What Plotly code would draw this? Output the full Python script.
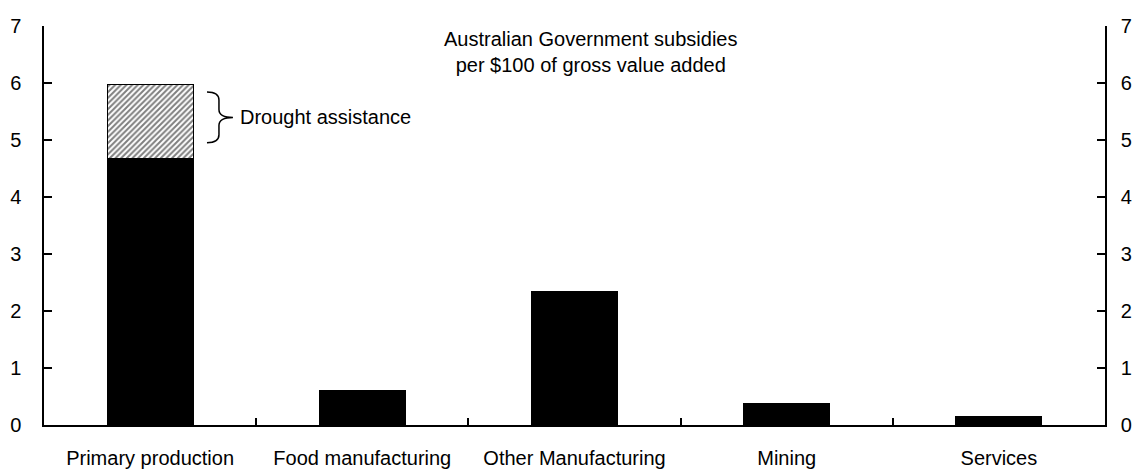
import plotly.graph_objects as go

categories = ["Primary production", "Food manufacturing", "Other Manufacturing", "Mining", "Services"]
base_subsidies = [4.67, 0.61, 2.35, 0.37, 0.145]
drought_assistance = [1.30, 0, 0, 0, 0]
y_ticks = [0, 1, 2, 3, 4, 5, 6, 7]

FONT = "Liberation Sans, Arial, sans-serif"
FS = 20

fig = go.Figure()
fig.add_trace(go.Bar(
    x=categories, y=base_subsidies, marker=dict(color="black", line=dict(color="black", width=1)),
    width=0.405, showlegend=False, hoverinfo="skip"))
fig.add_trace(go.Bar(
    x=categories, y=drought_assistance,
    marker=dict(color="white", line=dict(color="black", width=1),
                pattern=dict(shape="/", fgcolor="black", bgcolor="white", size=4, solidity=0.5)),
    width=0.405, showlegend=False, hoverinfo="skip"))
# invisible trace for right axis
fig.add_trace(go.Scatter(x=categories, y=[None]*5, yaxis="y2", showlegend=False, hoverinfo="skip"))

axis_common = dict(range=[0, 7], tickvals=y_ticks, showgrid=False, zeroline=False,
                   showline=True, linecolor="black", linewidth=1.5, ticks="inside",
                   ticklen=8, tickcolor="black", tickwidth=1.5, automargin=False,
                   tickfont=dict(family=FONT, size=FS, color="black"))

fig.update_layout(
    barmode="stack",
    width=1137, height=470,
    margin=dict(l=44, r=32, t=26, b=45),
    paper_bgcolor="white", plot_bgcolor="white",
    font=dict(family=FONT, size=FS, color="black"),
    xaxis=dict(showline=True, linecolor="black", linewidth=1.5, ticks="inside", ticklen=7,
               tickcolor="black", tickwidth=1.5, tickson="boundaries", showgrid=False,
               automargin=False,
               tickfont=dict(family=FONT, size=FS, color="black"), ticklabelstandoff=14),
    yaxis=dict(side="left", ticklabelstandoff=17, **axis_common),
    yaxis2=dict(side="right", overlaying="y", ticklabelstandoff=10, **axis_common),
)

fig.add_annotation(x=0.515, y=1.0, xref="paper", yref="paper", yanchor="top", showarrow=False,
                   text="Australian Government subsidies<br>per $100 of gross value added",
                   font=dict(family=FONT, size=FS, color="black"), align="center")

# brace for drought assistance segment
total = base_subsidies[0] + drought_assistance[0]
top = total - 0.13
bot = base_subsidies[0] + 0.28
mid = (top + bot) / 2
x0, x1, x2 = 0.1536, 0.1649, 0.1781
c = 0.14
path = (f"M {x0},{top} Q {x1},{top} {x1},{top-c} L {x1},{mid+c} Q {x1},{mid} {x2},{mid} "
        f"Q {x1},{mid} {x1},{mid-c} L {x1},{bot+c} Q {x1},{bot} {x0},{bot}")
fig.add_shape(type="path", path=path, xref="paper", yref="y", line=dict(color="black", width=1.5))
fig.add_annotation(x=x2 + 0.005, y=mid, xref="paper", yref="y", xanchor="left", showarrow=False,
                   text="Drought assistance", font=dict(family=FONT, size=FS, color="black"))

fig.write_html("out.html")
